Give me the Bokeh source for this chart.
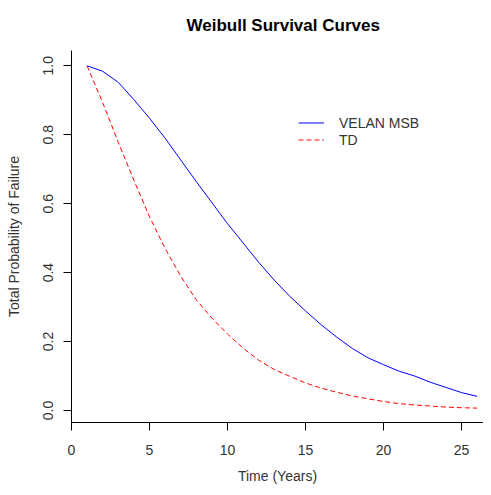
from bokeh.plotting import figure
from bokeh.models import Range1d, FixedTicker, CustomJSTickFormatter, Legend, LegendItem
from bokeh.embed import file_html
from bokeh.resources import INLINE

years = list(range(1, 27))
velan_msb = [1.000, 0.984, 0.952, 0.902, 0.848, 0.790, 0.727, 0.664, 0.603, 0.542,
             0.486, 0.430, 0.378, 0.331, 0.289, 0.249, 0.213, 0.180, 0.153, 0.133,
             0.114, 0.100, 0.082, 0.067, 0.052, 0.041]
td = [1.000, 0.893, 0.778, 0.668, 0.562, 0.470, 0.390, 0.321, 0.268, 0.222,
      0.181, 0.146, 0.119, 0.099, 0.080, 0.065, 0.053, 0.042, 0.034, 0.026,
      0.020, 0.016, 0.013, 0.010, 0.008, 0.007]
x_ticks = [0, 5, 10, 15, 20, 25]
y_ticks = [0.0, 0.2, 0.4, 0.6, 0.8, 1.0]

FONT = "Liberation Sans"
TXT = "#333333"

p = figure(width=483, height=487, output_backend="svg", toolbar_location=None,
           x_range=Range1d(0, 26.41), y_range=Range1d(-0.0348, 1.0444),
           min_border_left=71, min_border_right=0, min_border_top=50, min_border_bottom=65)
p.title.text = "Weibull Survival Curves"
p.title.align = "left"
p.title.offset = 115
p.title.text_font = FONT
p.title.text_font_size = "17px"
p.title.text_font_style = "bold"
p.title.text_color = "black"
p.title.vertical_align = "top"
p.title.standoff = 28

p.outline_line_color = None
p.xgrid.visible = False
p.ygrid.visible = False
p.background_fill_color = "white"
p.border_fill_color = "white"

xa = p.below[0]
ya = p.left[0]

for ax in (xa, ya):
    ax.axis_line_color = "black"
    ax.major_tick_line_color = "black"
    ax.major_tick_out = 8
    ax.major_tick_in = 0
    ax.minor_tick_line_color = None
    ax.major_label_text_font = FONT
    ax.major_label_text_font_size = "14px"
    ax.major_label_text_color = TXT
    ax.axis_label_text_font = FONT
    ax.axis_label_text_font_size = "14px"
    ax.axis_label_text_font_style = "normal"
    ax.axis_label_text_color = TXT

xa.ticker = FixedTicker(ticks=x_ticks)
ya.ticker = FixedTicker(ticks=y_ticks)
ya.formatter = CustomJSTickFormatter(code="return tick.toFixed(1);")
xa.major_label_standoff = 14
xa.axis_label_standoff = 10
ya.major_label_standoff = 10
ya.axis_label_standoff = 19
ya.major_label_orientation = "vertical"
xa.axis_label = "Time (Years)"
ya.axis_label = "Total Probability of Failure"

r1 = p.line(years, velan_msb, line_color="#0000FF", line_width=1)
r2 = p.line(years, td, line_color="#FF0000", line_width=1, line_dash="5 3")

legend = Legend(items=[LegendItem(label="VELAN MSB", renderers=[r1]),
                       LegendItem(label="TD", renderers=[r2])],
                location=(227, 274), padding=0, margin=0, spacing=0,
                glyph_width=26, glyph_height=17, label_height=17, label_standoff=15,
                label_text_font=FONT, label_text_font_size="14px", label_text_color=TXT,
                border_line_color=None, background_fill_alpha=0)
p.add_layout(legend, "center")

open("out.html", "w").write(file_html(p, INLINE))
